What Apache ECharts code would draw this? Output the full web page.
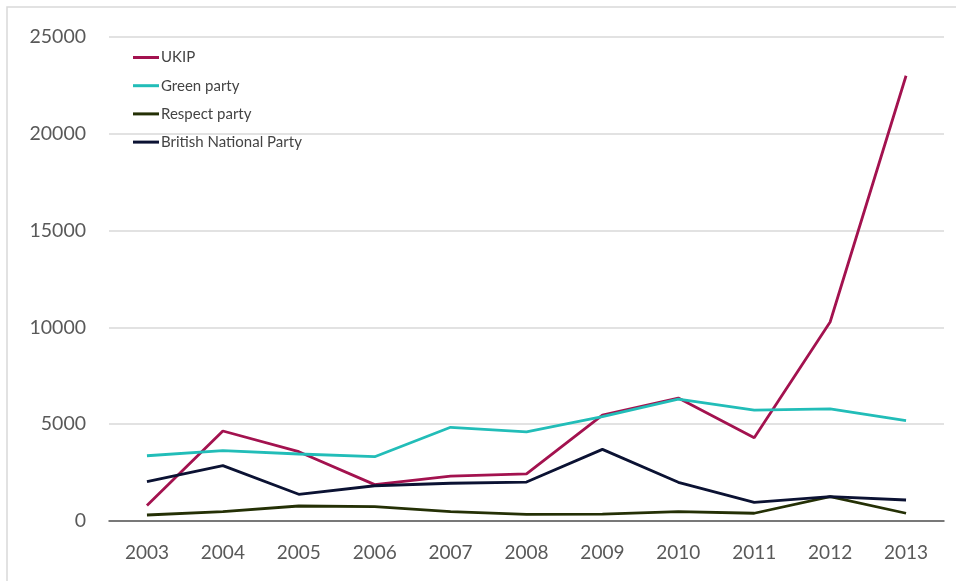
<!DOCTYPE html>
<html><head><meta charset="utf-8">
<script src="https://cdn.jsdelivr.net/npm/echarts@6/dist/echarts.min.js"></script>
<style>html,body{margin:0;padding:0;background:#fff}#c{width:956px;height:581px}</style>
</head><body><div id="c"></div>
<script>
const years = ['2003','2004','2005','2006','2007','2008','2009','2010','2011','2012','2013'];
const ukip = [800, 4650, 3580, 1880, 2320, 2430, 5470, 6350, 4300, 10280, 23000];
const green = [3370, 3630, 3460, 3320, 4840, 4600, 5390, 6290, 5730, 5790, 5180];
const respect = [310, 480, 775, 740, 480, 345, 360, 480, 400, 1260, 400];
const bnp = [2030, 2860, 1380, 1820, 1950, 2010, 3700, 2000, 965, 1260, 1085];
const yTicks = [0, 5000, 10000, 15000, 20000, 25000];

const chart = echarts.init(document.getElementById('c'));
const font = 'Lato, "DejaVu Sans", sans-serif';
function s(name, data, color) {
  return {name, type:'line', data, symbol:'none', smooth:false,
    lineStyle:{width:2.8, color}, itemStyle:{color}};
}
chart.setOption({
  animation:false,
  graphic:[{type:'rect', shape:{x:7, y:7, width:960, height:600}, style:{fill:'none', stroke:'#d9d9d9', lineWidth:1.5}, silent:true}],
  grid:{left:109, right:12, top:37, bottom:60},
  legend:{orient:'vertical', left:128, top:45, itemWidth:26, itemHeight:14, itemGap:13.2,
    icon:'path://M0,6 L26,6 L26,9 L0,9 Z',
    textStyle:{fontFamily:font, fontSize:15, color:'#444', padding:[0,0,0,-3]},
    data:['UKIP','Green party','Respect party','British National Party']},
  xAxis:{type:'category', data:years, boundaryGap:true,
    axisLine:{show:true, lineStyle:{color:'#555', width:1.5}},
    axisTick:{show:false},
    axisLabel:{fontFamily:font, fontSize:19, color:'#595959', margin:22}},
  yAxis:{type:'value', min:0, max:25000, interval:5000,
    axisLine:{show:false}, axisTick:{show:false},
    axisLabel:{fontFamily:font, fontSize:19.5, color:'#595959', margin:23,
      formatter:v => yTicks.includes(v) ? String(v) : ''},
    splitLine:{lineStyle:{color:'#d9d9d9', width:1.5}}},
  series:[
    s('UKIP', ukip, '#a3124f'),
    s('Green party', green, '#22bdb8'),
    s('Respect party', respect, '#243005'),
    s('British National Party', bnp, '#0b1233')
  ]
});
</script></body></html>
